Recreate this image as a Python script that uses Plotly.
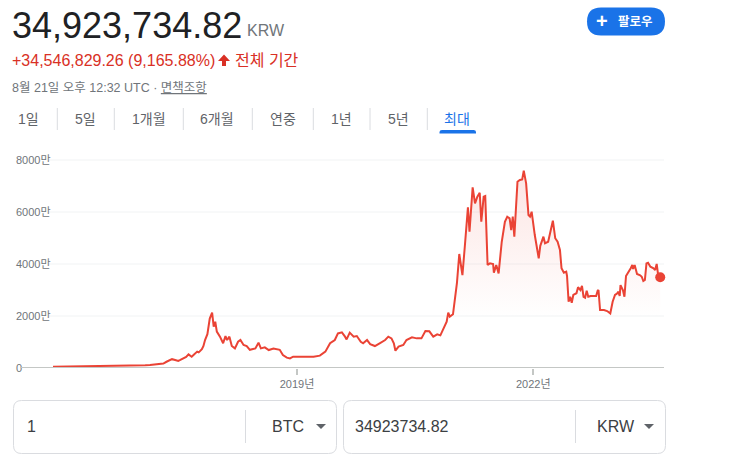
import plotly.graph_objects as go
import pandas as pd

# ---------------- data (values in 만원 = 10,000 KRW) ----------------
years = [
    2015.90, 2016.18, 2016.43, 2016.56, 2016.75, 2016.94, 2017.07, 2017.13, 2017.20, 2017.26,
    2017.30, 2017.34, 2017.41, 2017.45, 2017.49, 2017.51, 2017.55, 2017.59, 2017.62, 2017.66,
    2017.69, 2017.73, 2017.75, 2017.79, 2017.81, 2017.83, 2017.86, 2017.87, 2017.89, 2017.92,
    2017.94, 2017.96, 2017.98, 2018.02, 2018.06, 2018.09, 2018.11, 2018.14, 2018.17, 2018.21,
    2018.25, 2018.28, 2018.32, 2018.36, 2018.40, 2018.47, 2018.51, 2018.54, 2018.59, 2018.64,
    2018.70, 2018.78, 2018.82, 2018.87, 2018.91, 2018.95, 2019.04, 2019.12, 2019.21, 2019.29,
    2019.36, 2019.42, 2019.48, 2019.52, 2019.57, 2019.61, 2019.63, 2019.67, 2019.72, 2019.76,
    2019.81, 2019.84, 2019.89, 2019.93, 2019.99, 2020.05, 2020.12, 2020.16, 2020.20, 2020.23,
    2020.25, 2020.29, 2020.35, 2020.39, 2020.46, 2020.52, 2020.58, 2020.63, 2020.68, 2020.73,
    2020.78, 2020.82, 2020.86, 2020.90, 2020.92, 2020.94, 2020.98, 2021.01, 2021.03, 2021.06,
    2021.10, 2021.13, 2021.17, 2021.19, 2021.23, 2021.26, 2021.29, 2021.32, 2021.34, 2021.37,
    2021.39, 2021.42, 2021.45, 2021.49, 2021.50, 2021.53, 2021.56, 2021.60, 2021.64, 2021.67,
    2021.70, 2021.72, 2021.74, 2021.76, 2021.80, 2021.83, 2021.86, 2021.88, 2021.91, 2021.94,
    2021.96, 2021.98, 2022.02, 2022.07, 2022.09, 2022.13, 2022.15, 2022.19, 2022.23, 2022.25,
    2022.28, 2022.31, 2022.34, 2022.36, 2022.39, 2022.42, 2022.43, 2022.45, 2022.47, 2022.49,
    2022.51, 2022.55, 2022.57, 2022.60, 2022.62, 2022.64, 2022.66, 2022.68, 2022.70, 2022.73,
    2022.77, 2022.80, 2022.82, 2022.83, 2022.85, 2022.90, 2022.94, 2022.98, 2023.01, 2023.04,
    2023.07, 2023.08, 2023.10, 2023.11, 2023.14, 2023.16, 2023.18, 2023.21, 2023.24, 2023.26,
    2023.27, 2023.29, 2023.32, 2023.36, 2023.38, 2023.40, 2023.42, 2023.44, 2023.46, 2023.49,
    2023.53, 2023.55, 2023.57, 2023.59, 2023.615,
]
price_man = [
    45, 55, 70, 75, 70, 100, 110, 120, 135, 150,
    170, 240, 340, 310, 270, 300, 370, 430, 525, 435,
    520, 630, 600, 720, 850, 1075, 1300, 1590, 1900, 2130,
    1590, 1780, 1400, 1205, 950, 1230, 1075, 1205, 845, 755,
    1010, 1075, 885, 845, 700, 755, 975, 755, 795, 690,
    745, 700, 500, 400, 370, 435, 435, 410, 435, 475,
    630, 950, 1075, 1330, 1370, 1205, 1100, 1360, 1205, 1230,
    1010, 950, 1075, 920, 845, 950, 1075, 1205, 1140, 950,
    665, 820, 885, 1075, 1180, 1140, 1140, 1420, 1410, 1205,
    1295, 1255, 1525, 1780, 2130, 1975, 2065, 2810, 3260, 4385,
    3575, 4665, 6180, 5240, 6950, 6335, 6590, 6740, 5625, 6590,
    6615, 3960, 4025, 4000, 3665, 3960, 3640, 4855, 5625, 5820,
    5755, 5305, 5820, 5050, 7165, 7230, 7255, 7590, 7100, 5885,
    5820, 6010, 5115, 4220, 4700, 5050, 4795, 4855, 5370, 5665,
    4990, 4855, 4540, 3835, 3665, 3705, 3540, 2550, 2740, 2510,
    2810, 2875, 3105, 3000, 3155, 2740, 2705, 2975, 2740, 2770,
    2770, 2770, 2975, 3000, 2230, 2230, 2190, 2100, 2550, 2810,
    2875, 2935, 2770, 3190, 3000, 2740, 3540, 3665, 3835, 3960,
    3810, 3960, 3615, 3565, 3510, 3345, 3385, 4025, 4050, 3895,
    3835, 3770, 4000, 3540, 3492.373482,
]
y_tick_vals = [0, 2000, 4000, 6000, 8000]
y_tick_text = ["0", "2000만", "4000만", "6000만", "8000만"]
x_tick_years = [2019, 2022]
x_tick_text = ["2019년", "2022년"]
tabs = ["1일", "5일", "1개월", "6개월", "연중", "1년", "5년", "최대"]


def frac_to_date(t):
    y = int(t)
    a = pd.Timestamp(y, 1, 1)
    b = pd.Timestamp(y + 1, 1, 1)
    return a + (b - a) * (t - y)


dates = [frac_to_date(t) for t in years]

# ---------------- geometry ----------------
W, H = 741, 460
L, R, T, B = 13, 664, 150, 368
PW, PH = R - L, B - T


def px(x):
    return (x - L) / PW


def py(y):
    return (B - y) / PH


RED = "#ea4335"
GRAY = "#70757a"
BLUE = "#1a73e8"
FONT = "Arial, 'Liberation Sans', 'Noto Sans CJK KR', sans-serif"

fig = go.Figure()
fig.add_trace(go.Scatter(
    x=dates, y=price_man, mode="lines",
    line=dict(color=RED, width=2),
    fill="tozeroy",
    fillgradient=dict(
        type="vertical", start=0, stop=7600,
        colorscale=[[0, "rgba(234,67,53,0)"], [0.25, "rgba(234,67,53,0.0)"],
                    [1, "rgba(234,67,53,0.14)"]],
    ),
    hoverinfo="skip", showlegend=False,
))
fig.add_trace(go.Scatter(
    x=[dates[-1]], y=[price_man[-1]], mode="markers",
    marker=dict(color=RED, size=10), cliponaxis=False,
    hoverinfo="skip", showlegend=False,
))

shapes = []
# gridlines
for v in y_tick_vals[1:]:
    shapes.append(dict(type="line", xref="paper", yref="y", x0=px(48), x1=1, y0=v, y1=v,
                       line=dict(color="#f1f3f4", width=1), layer="below"))
# baseline
shapes.append(dict(type="line", xref="paper", yref="y", x0=px(20), x1=1, y0=0, y1=0,
                   line=dict(color="#c4c7c5", width=2), layer="above"))


def rrect(x0, y0, x1, y1, r):
    return (f"M{px(x0+r)},{py(y0)} L{px(x1-r)},{py(y0)} Q{px(x1)},{py(y0)} {px(x1)},{py(y0+r)} "
            f"L{px(x1)},{py(y1-r)} Q{px(x1)},{py(y1)} {px(x1-r)},{py(y1)} "
            f"L{px(x0+r)},{py(y1)} Q{px(x0)},{py(y1)} {px(x0)},{py(y1-r)} "
            f"L{px(x0)},{py(y0+r)} Q{px(x0)},{py(y0)} {px(x0+r)},{py(y0)} Z")


def poly(pts):
    return "M" + " L".join(f"{px(a)},{py(b)}" for a, b in pts) + " Z"


# follow button
shapes.append(dict(type="path", xref="paper", yref="paper", path=rrect(587, 7.5, 665, 35.5, 14),
                   fillcolor=BLUE, line=dict(width=0)))
# up arrow
shapes.append(dict(type="path", xref="paper", yref="paper",
                   path=poly([(218, 61), (224, 54.5), (230, 61), (226, 61), (226, 66), (222, 66), (222, 61)]),
                   fillcolor="#d93025", line=dict(width=0)))
# tab separators
for sx in [57.3, 114.3, 183.3, 252.3, 313.3, 370, 427.3]:
    shapes.append(dict(type="line", xref="paper", yref="paper", x0=px(sx), x1=px(sx),
                       y0=py(108), y1=py(130), line=dict(color="#dadce0", width=1)))
# active tab underline
shapes.append(dict(type="path", xref="paper", yref="paper",
                   path=(f"M{px(439.5)},{py(133.5)} L{px(439.5)},{py(132)} Q{px(439.5)},{py(130)} {px(442)},{py(130)} "
                         f"L{px(473.5)},{py(130)} Q{px(476)},{py(130)} {px(476)},{py(132)} L{px(476)},{py(133.5)} Z"),
                   fillcolor=BLUE, line=dict(width=0)))
# converter boxes
shapes.append(dict(type="path", xref="paper", yref="paper", path=rrect(13.5, 400.5, 336.5, 453.5, 8),
                   fillcolor="rgba(0,0,0,0)", line=dict(color="#dadce0", width=1)))
shapes.append(dict(type="path", xref="paper", yref="paper", path=rrect(343.5, 400.5, 665.5, 453.5, 8),
                   fillcolor="rgba(0,0,0,0)", line=dict(color="#dadce0", width=1)))
for sx in [245.5, 575.5]:
    shapes.append(dict(type="line", xref="paper", yref="paper", x0=px(sx), x1=px(sx),
                       y0=py(410), y1=py(443), line=dict(color="#dadce0", width=1)))
for tx in [316, 644]:
    shapes.append(dict(type="path", xref="paper", yref="paper",
                       path=poly([(tx, 424), (tx + 10, 424), (tx + 5, 429)]),
                       fillcolor="#5f6368", line=dict(width=0)))

ann = []


def text(x, y, s, size, color, xanchor="left", weight="normal"):
    ann.append(dict(xref="paper", yref="paper", x=px(x), y=py(y), text=s, showarrow=False,
                    xanchor=xanchor, yanchor="middle",
                    font=dict(family=FONT, size=size, color=color, weight=weight)))


text(10, 25, "34,923,734.82", 36, "#202124")
text(245, 30, "KRW", 16, GRAY)
text(10, 60, "+34,546,829.26 (9,165.88%)", 16, "#d93025")
text(233, 60, "전체 기간", 16, "#d93025")
text(10, 88, "8월 21일 오후 12:32 UTC · <span style='text-decoration:underline'>면책조항</span>", 12.5, GRAY)
text(601.5, 21, "+", 20, "white", xanchor="center", weight="bold")
text(635, 21.5, "팔로우", 12.5, "white", xanchor="center", weight="bold")
centers = [28.8, 85.8, 148.5, 217, 282.7, 341.3, 398.3, 457]
for c, lab in zip(centers, tabs):
    text(c, 119, lab, 14, BLUE if lab == "최대" else "#5f6368", xanchor="center")
text(25, 426, "1", 16, "#3c4043")
text(270, 426, "BTC", 16, "#3c4043")
text(353, 426, "34923734.82", 16, "#3c4043")
text(595, 426, "KRW", 16, "#3c4043")

fig.update_layout(
    width=W, height=H,
    margin=dict(l=L, r=W - R, t=T, b=H - B, pad=0),
    paper_bgcolor="white", plot_bgcolor="white",
    shapes=shapes, annotations=ann,
    showlegend=False, hovermode=False,
    xaxis=dict(
        type="date",
        range=[frac_to_date(2015.391), frac_to_date(2023.663)],
        tickvals=[pd.Timestamp(y, 1, 1) for y in x_tick_years],
        ticktext=x_tick_text,
        ticks="outside", ticklen=6, tickwidth=2, tickcolor="#c4c7c5",
        showgrid=False, zeroline=False, showline=False,
        tickfont=dict(family=FONT, size=11, color=GRAY),
        fixedrange=True,
    ),
    yaxis=dict(
        range=[0, 8000 * PH / 208],
        tickvals=y_tick_vals, ticktext=y_tick_text,
        ticklabelposition="inside", ticklabeloverflow="allow",
        showgrid=False, zeroline=False, showline=False, ticks="",
        tickfont=dict(family=FONT, size=11, color=GRAY),
        fixedrange=True,
    ),
)

fig.write_html("out.html", config={"displayModeBar": False, "staticPlot": True})
